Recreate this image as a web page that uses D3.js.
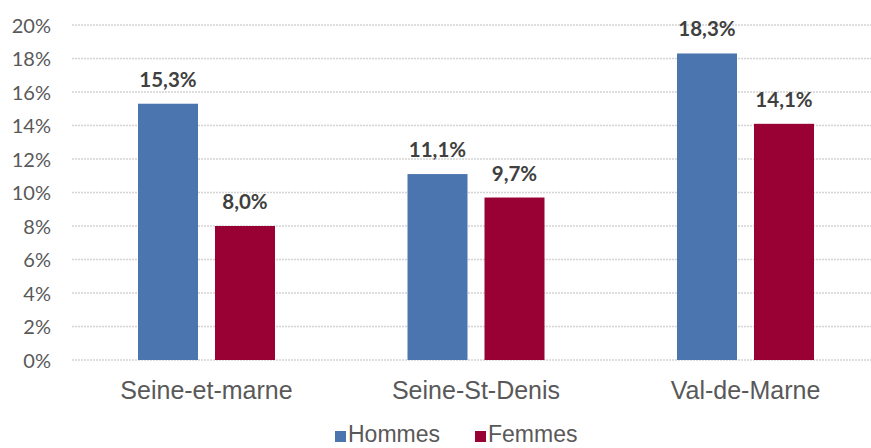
<!DOCTYPE html>
<html><head><meta charset="utf-8">
<script src="https://cdn.jsdelivr.net/npm/d3@7"></script>
<style>body{margin:0;background:#fff}svg{display:block}</style>
</head><body>
<script>
const categories = ["Seine-et-marne", "Seine-St-Denis", "Val-de-Marne"];
const seriesNames = ["Hommes", "Femmes"];
const hommes = [0.153, 0.111, 0.183];
const femmes = [0.080, 0.097, 0.141];
const yTicks = [0, 0.02, 0.04, 0.06, 0.08, 0.10, 0.12, 0.14, 0.16, 0.18, 0.20];
const colors = ["#4A75AE", "#990033"];

const W = 871, H = 448;
const svg = d3.select("body").append("svg").attr("width", W).attr("height", H);

const y = d3.scaleLinear().domain([0, 0.2]).range([360, 25]);
const x0 = d3.scaleBand().domain(categories).range([71.75, 880.25]).padding(0);
const x1 = d3.scaleBand().domain(seriesNames).range([66.25, 203.25]).paddingInner(0.2208).paddingOuter(0);

const fmtTick = d => d3.format(".0%")(d);
const fmtLabel = d => (d * 100).toFixed(1).replace(".", ",") + "%";

// gridlines
svg.append("g").selectAll("line").data(yTicks).join("line")
  .attr("x1", 72).attr("x2", W)
  .attr("y1", d => y(d)).attr("y2", d => y(d))
  .attr("stroke", "#d4d4d4").attr("stroke-width", 1.5)
  .attr("stroke-dasharray", "2,1");

// y axis labels
const yAxis = d3.axisLeft(y).tickValues(yTicks).tickFormat(fmtTick).tickSize(0).tickPadding(0);
const ya = svg.append("g").attr("transform", "translate(51,0)").call(yAxis);
ya.select(".domain").remove();
ya.selectAll("text").attr("font-family", "Lato, 'Open Sans', sans-serif").attr("font-size", 20)
  .attr("fill", "#595959").attr("dy", "0.36em");

// x axis labels
const xAxis = d3.axisBottom(x0).tickSize(0).tickPadding(0);
const xa = svg.append("g").attr("transform", "translate(0,399)").call(xAxis);
xa.select(".domain").remove();
xa.selectAll("text").attr("font-family", "'Liberation Sans', Arial, sans-serif").attr("font-size", 25)
  .attr("fill", "#595959").attr("dy", 0);

const data = categories.map((c, i) => ({cat: c, vals: [
  {s: seriesNames[0], v: hommes[i], c: colors[0]},
  {s: seriesNames[1], v: femmes[i], c: colors[1]}]}));

const g = svg.append("g").selectAll("g").data(data).join("g")
  .attr("transform", d => `translate(${x0(d.cat)},0)`);

g.selectAll("rect").data(d => d.vals).join("rect")
  .attr("x", d => x1(d.s)).attr("width", x1.bandwidth())
  .attr("y", d => y(d.v)).attr("height", d => y(0) - y(d.v))
  .attr("fill", d => d.c);

g.selectAll("text.lbl").data(d => d.vals).join("text").attr("class", "lbl")
  .attr("x", d => x1(d.s) + x1.bandwidth() / 2)
  .attr("y", d => y(d.v) - 17)
  .attr("text-anchor", "middle")
  .attr("font-family", "Lato, 'Open Sans', sans-serif").attr("font-weight", "bold")
  .attr("font-size", 20.5).attr("fill", "#404040")
  .text(d => fmtLabel(d.v));

// legend
const legendX = [335, 475];
const lg = svg.append("g").selectAll("g").data(seriesNames).join("g")
  .attr("transform", (d, i) => `translate(${legendX[i]},0)`);
lg.append("rect").attr("x", 0).attr("y", 431).attr("width", 11).attr("height", 11)
  .attr("fill", (d, i) => colors[i]);
lg.append("text").attr("x", 13).attr("y", 442)
  .attr("font-family", "'Liberation Sans', Arial, sans-serif").attr("font-size", 23)
  .attr("fill", "#595959").text(d => d);
</script>
</body></html>
